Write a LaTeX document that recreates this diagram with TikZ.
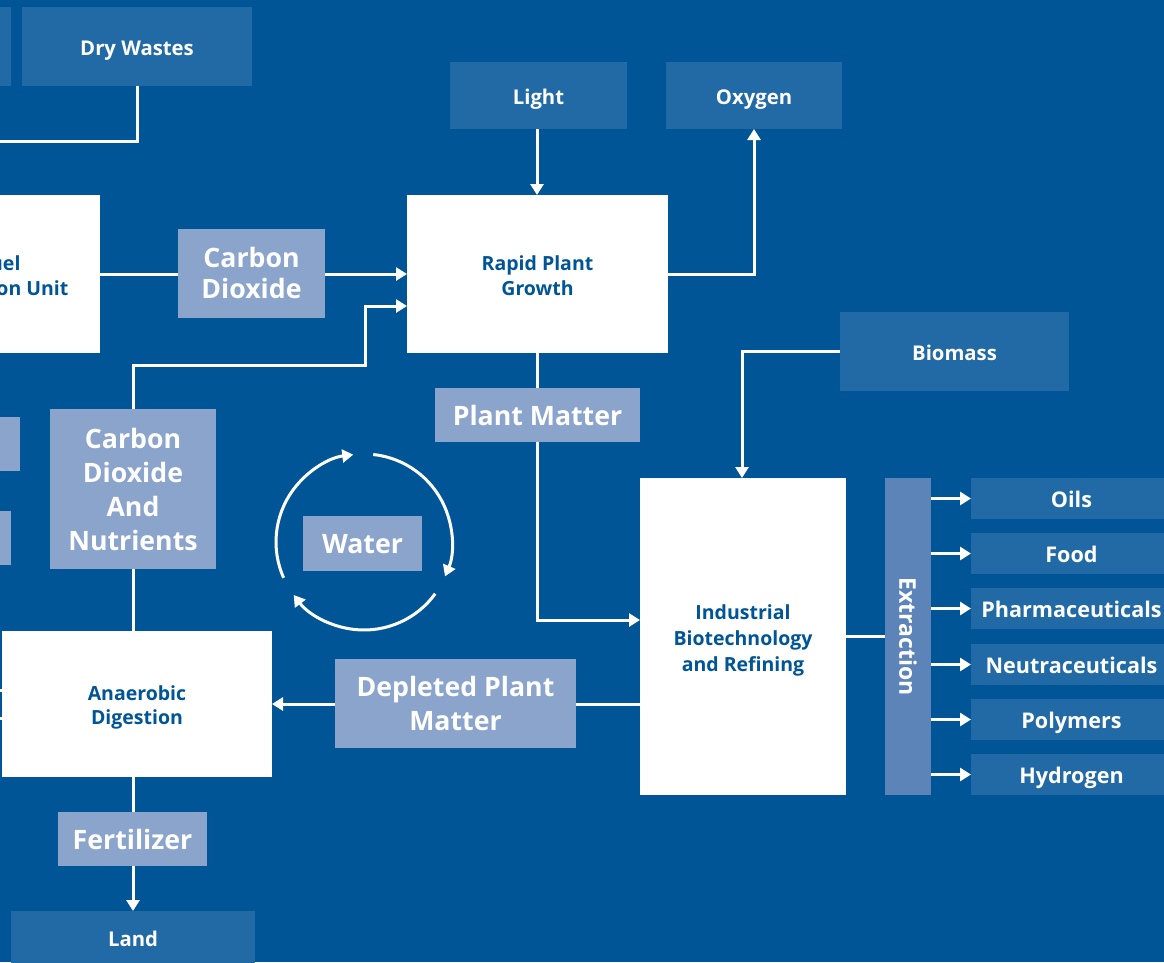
\documentclass[tikz,border=0pt]{standalone}
\usepackage{fontspec}
\setmainfont{Open Sans}
\usetikzlibrary{arrows.meta}
\pgfdeclarelayer{bg}
\pgfdeclarelayer{lines}
\pgfsetlayers{bg,lines,main}
\definecolor{bgblue}{RGB}{0,85,150}
\definecolor{boxblue}{RGB}{33,106,166}
\definecolor{labblue}{RGB}{139,164,203}
\definecolor{extblue}{RGB}{92,132,184}
\newcommand{\tl}[1]{\raisebox{-3.5pt}[\height][\depth]{\begin{tabular}{@{}c@{}}#1\end{tabular}}}
\begin{document}
\begin{tikzpicture}[x=1pt,y=-1pt,
  box/.style={inner sep=0pt, outer sep=0pt, font=\bfseries\fontsize{19.5}{25}\selectfont},
  whitebox/.style={box, fill=white, text=bgblue},
  lightbox/.style={box, fill=boxblue, text=white, font=\bfseries\fontsize{20.3}{25}\selectfont},
  lab/.style={box, fill=labblue, text=white, font=\bfseries\fontsize{26.7}{34}\selectfont},
  outbox/.style={box, fill=boxblue, text=white, font=\bfseries\fontsize{21.6}{26}\selectfont, minimum width=201pt, minimum height=41pt},
  conn/.style={draw=white, line width=3pt},
  arr/.style={conn, -{Triangle[length=11pt,width=13pt]}},
]
\useasboundingbox (0,0) rectangle (1164,962);
\begin{pgfonlayer}{bg}
  \fill[bgblue] (0,0) rectangle (1164,962);
\end{pgfonlayer}
\clip (0,0) rectangle (1164,962);

% boxes
\node[lightbox, minimum width=111pt, minimum height=79pt] (lefttop) at (-44.5,46.5) {};
\node[lightbox, minimum width=230pt, minimum height=79pt] (dry) at (137,46.5) {\tl{Dry Wastes}};
\node[whitebox, minimum width=228pt, minimum height=158pt] (fuel) at (-14,274) {\tl{Biofuel\\Combustion Unit}};
\node[lab, minimum width=147pt, minimum height=89pt, font=\bfseries\fontsize{26.7}{31}\selectfont] (co2) at (251.5,273.5) {\tl{Carbon\\Dioxide}};
\node[whitebox, minimum width=261pt, minimum height=158pt] (rapid) at (537.5,274) {\tl{Rapid Plant\\Growth}};
\node[lightbox, minimum width=177pt, minimum height=67pt] (light) at (538.5,95.5) {\tl{Light}};
\node[lightbox, minimum width=176pt, minimum height=67pt] (oxygen) at (754,95.5) {\tl{Oxygen}};
\node[lab, minimum width=166pt, minimum height=160pt] (co2n) at (133,489) {\tl{Carbon\\Dioxide\\And\\Nutrients}};
\node[lab, minimum width=120pt, minimum height=54pt] (leftlab1) at (-40,444) {};
\node[lab, minimum width=111pt, minimum height=54pt] (leftlab2) at (-44.5,538) {};
\node[lab, minimum width=119pt, minimum height=55pt] (water) at (362.5,543.5) {\tl{Water}};
\node[lab, minimum width=205pt, minimum height=54pt] (plant) at (537.5,415) {\tl{Plant Matter}};
\node[lightbox, minimum width=229pt, minimum height=79pt] (biomass) at (954.5,351.5) {\tl{Biomass}};
\node[whitebox, minimum width=206pt, minimum height=317pt, font=\bfseries\fontsize{19.5}{26}\selectfont] (indus) at (743,636.5) {\tl{Industrial\\Biotechnology\\and Refining}};
\node[lab, minimum width=241pt, minimum height=89pt] (depleted) at (455.5,703.5) {\tl{Depleted Plant\\Matter}};
\node[whitebox, minimum width=270pt, minimum height=146pt, font=\bfseries\fontsize{19.5}{24.5}\selectfont] (anaer) at (137,704) {\tl{Anaerobic\\Digestion}};
\node[lab, minimum width=149pt, minimum height=54pt] (fert) at (132.5,839) {\tl{Fertilizer}};
\node[lightbox, minimum width=244pt, minimum height=54pt] (land) at (133,938) {\tl{Land}};
\node[box, fill=extblue, text=white, minimum width=317pt, minimum height=46pt, rotate=-90, font=\bfseries\fontsize{23}{26}\selectfont] (extr) at (908,636.5) {\tl{Extraction}};
\node[outbox] (o1) at (1071.5,498.5) {\tl{Oils}};
\node[outbox] (o2) at (1071.5,553.5) {\tl{Food}};
\node[outbox] (o3) at (1071.5,608.5) {\tl{Pharmaceuticals}};
\node[outbox] (o4) at (1071.5,664.5) {\tl{Neutraceuticals}};
\node[outbox] (o5) at (1071.5,719.5) {\tl{Polymers}};
\node[outbox] (o6) at (1071.5,774.5) {\tl{Hydrogen}};
\coordinate (wc) at (364,542);
\coordinate (offleft) at (-10,141);

% connectors
\begin{pgfonlayer}{lines}
  \draw[conn] (dry.south) -- (dry.south |- 0,141) -- (offleft);
  \draw[arr] (fuel.east) -- (rapid.west);
  \draw[arr] (co2n.center |- anaer.north) -- (co2n.center |- 0,365) -- (365,365) -- (365,306) -- (rapid.west |- 0,306);
  \draw[arr] (light.south -| 537,0) -- (rapid.north -| 537,0);
  \draw[arr] (rapid.east) -| (oxygen.south);
  \draw[arr] (rapid.south -| 537,0) -- (537,620) -- (indus.west |- 0,620);
  \draw[arr] (biomass.west) -| (indus.north -| 742,0);
  \draw[arr] (indus.west |- 0,704) -- (anaer.east |- 0,704);
  \draw[arr] (land.north |- anaer.south) -- (land.north);
  \draw[conn] (indus.east) -- (extr.north);
  \foreach \o in {o1,o2,o3,o4,o5,o6} {
    \draw[arr] (extr.south |- \o.west) -- (\o.west);
  }
  \draw[conn] (-10,690) -- (anaer.west |- 0,690);
  \draw[conn] (-10,718) -- (anaer.west |- 0,718);
  \draw[arr] ([shift={(156:88)}]wc) arc[start angle=156, end angle=263, radius=88];
  \draw[arr] ([shift={(-84:88)}]wc) arc[start angle=-84, end angle=23, radius=88];
  \draw[arr] ([shift={(36:88)}]wc) arc[start angle=36, end angle=143, radius=88];
\end{pgfonlayer}
\end{tikzpicture}
\end{document}
